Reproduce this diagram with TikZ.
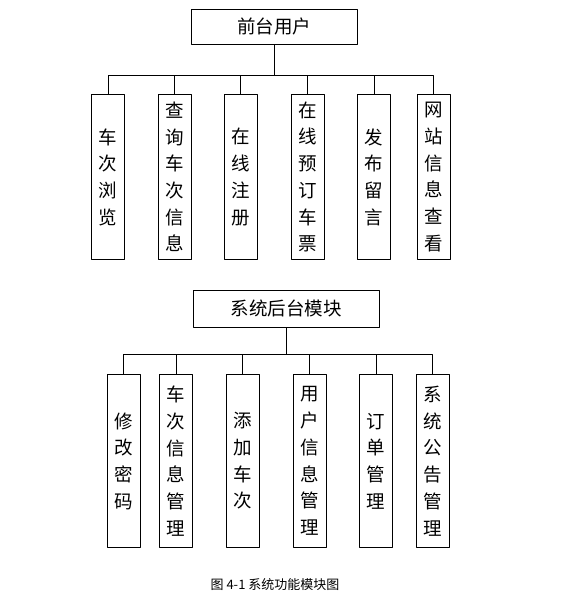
\documentclass[tikz,border=0pt]{standalone}
\usepackage{fontspec}
\newfontfamily\cjk{Noto Sans CJK SC}

\tikzset{
  headbox/.style={draw, inner sep=0pt, minimum height=35,
    font=\cjk\fontsize{18.5}{20}\selectfont},
  leafbox/.style={draw, anchor=north, inner sep=0pt, minimum width=33,
    align=center, font=\cjk\fontsize{18.5}{26.7}\selectfont},
}

\begin{document}
\begin{tikzpicture}[x=1pt, y=-1pt, line width=1pt, line cap=round, line join=round]
  \useasboundingbox (0,0) rectangle (563,603);
  % The front end: user functions.
  \node[headbox, minimum width=166] (user) at (274,26.5) {前台用户};
  \coordinate (userbus) at (274,75);
  \draw (user) -- (userbus);
  \foreach \x/\t [count=\i] in {108/车\\次\\浏\\览, 174.5/查\\询\\车\\次\\信\\息,
      240.5/在\\线\\注\\册, 307.5/在\\线\\预\\订\\车\\票,
      374/发\\布\\留\\言, 433.5/网\\站\\信\\息\\查\\看}{
    \node[leafbox, minimum height=165] (user\i) at (\x,94) {\t};
    \draw (userbus) -| (user\i);
  }
  % The back end: administration functions.
  \node[headbox, minimum width=186, minimum height=37] (admin) at (286,308.5) {系统后台模块};
  \coordinate (adminbus) at (286,354);
  \draw (admin) -- (adminbus);
  \foreach \x/\t [count=\i] in {123.5/修\\改\\密\\码, 176/车\\次\\信\\息\\管\\理,
      242.5/添\\加\\车\\次, 309.5/用\\户\\信\\息\\管\\理,
      376/订\\单\\管\\理, 432.5/系\\统\\公\\告\\管\\理}{
    \node[leafbox, minimum height=173] (admin\i) at (\x,374) {\t};
    \draw (adminbus) -| (admin\i);
  }
  % Caption.
  \node[font=\cjk\fontsize{13}{13}\selectfont] (caption) at (275,585) {图 4-1 系统功能模块图};
\end{tikzpicture}
\end{document}
